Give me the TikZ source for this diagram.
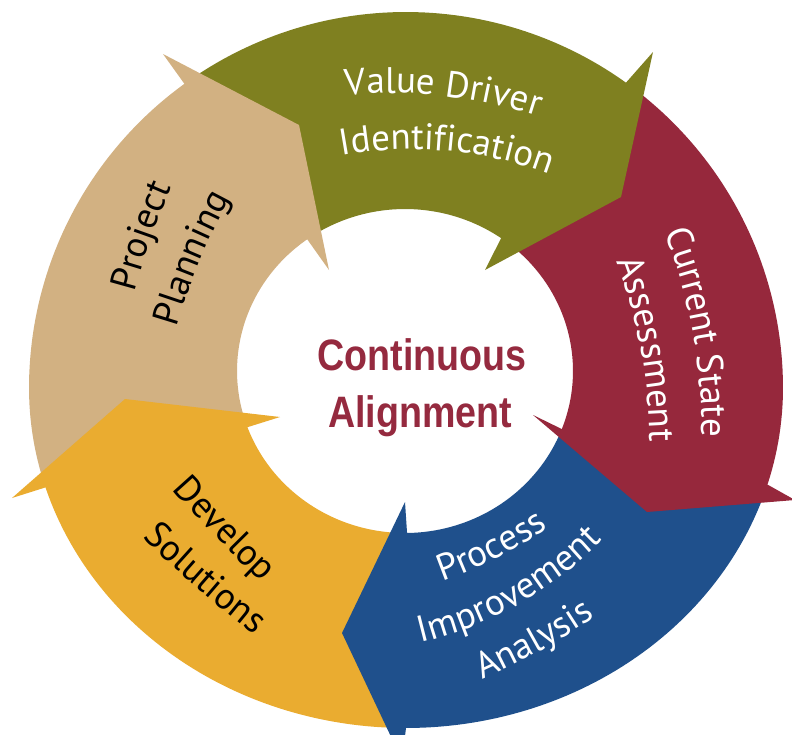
\documentclass[tikz,border=0pt]{standalone}
\usepackage{fontspec}
\newfontfamily\lblfont{PT Sans}
\newfontfamily\ctrfont{Liberation Sans}
\usetikzlibrary{calc,decorations.text}

\definecolor{cTan}{HTML}{D2B182}
\definecolor{cOlive}{HTML}{7F8020}
\definecolor{cRed}{HTML}{96283C}
\definecolor{cBlue}{HTML}{1F508C}
\definecolor{cGold}{HTML}{EAAC30}
\definecolor{cCtr}{HTML}{952A3F}

% one line of a label, set along a circular arc
% #1 middle of baseline, #2 reading direction, #3 arc radius,
% #4 1 = bulges towards letter tops, -1 = bulges away, #5 colour, #6 text
\newcommand\arcline[6]{%
  \pgfmathsetmacro\arcC{#2-90*(#4)}%
  \pgfmathsetmacro\arcS{#2+90*(#4)+(#4)*9740/#3}%
  \pgfmathsetmacro\arcE{#2+90*(#4)-(#4)*9740/#3}%
  \path[decorate,decoration={text along path,text align=center,text color=#5,
      text={|\lblfont\fontsize{37}{37}\selectfont|#6}}]
    ($(#1)+(\arcC:#3pt)+(\arcS:#3pt)$) arc[start angle=\arcS,end angle=\arcE,radius=#3pt];}

\tikzset{
  ctr/.style={font=\ctrfont\bfseries\fontsize{44}{44}\selectfont,text=cCtr,
    xscale=0.855,inner sep=0pt,anchor=base},
}

\begin{document}
\begin{tikzpicture}[x=1pt,y=1pt,
  declare function={
    ox(\t)=406+377*cos(\t);
    oy(\t)=-388+ifthenelse(sin(\t)>0,376,340)*sin(\t);
    ix(\t)=405+168*cos(\t);
    iy(\t)=-371+162*sin(\t);
  }]
\useasboundingbox (0,0) rectangle (792,-734);
\clip (0,0) rectangle (792,-734);
\fill[white] (0,0) rectangle (792,-734);

% arrowheads: outer wing, tip, inner wing
\coordinate (W1o) at (163,-54);  \coordinate (T1) at (299,-125); \coordinate (W1i) at (329,-270);
\coordinate (W2o) at (653,-52);  \coordinate (T2) at (621,-197); \coordinate (W2i) at (485,-270);
\coordinate (W3o) at (795,-500); \coordinate (T3) at (647,-512); \coordinate (W3i) at (533,-415);
\coordinate (W4o) at (402,-760); \coordinate (T4) at (342,-633); \coordinate (W4i) at (405,-502);
\coordinate (W5o) at (12,-498);  \coordinate (T5) at (125,-399); \coordinate (W5i) at (280,-417);

% back edges of the arrowheads, on the ring
\coordinate (E1o) at ({ox(126)},{oy(126)});     \coordinate (E1i) at ({ix(125.6)},{iy(125.6)});
\coordinate (E2o) at ({ox(54.3)},{oy(54.3)});   \coordinate (E2i) at ({ix(55.1)},{iy(55.1)});
\coordinate (E3o) at ({ox(-16.5)},{oy(-16.5)}); \coordinate (E3i) at ({ix(-21)},{iy(-21)});
\coordinate (E4o) at ({ox(-90)},{oy(-90)});     \coordinate (E4i) at ({ix(-89.3)},{iy(-89.3)});
\coordinate (E5o) at ({ox(197)},{oy(197)});     \coordinate (E5i) at ({ix(200.3)},{iy(200.3)});

% ring bodies (each tail runs under the previous arrowhead)
\fill[cOlive] plot[domain=125:53.3,samples=60] ({ox(\x)},{oy(\x)})
  -- plot[domain=54.1:124.6,samples=40] ({ix(\x)},{iy(\x)}) -- cycle;
\fill[cRed] plot[domain=53.3:-17.5,samples=60] ({ox(\x)},{oy(\x)})
  -- plot[domain=-22:54.1,samples=40] ({ix(\x)},{iy(\x)}) -- cycle;
\fill[cBlue] plot[domain=-17.5:-91,samples=60] ({ox(\x)},{oy(\x)})
  -- plot[domain=-90.3:-22,samples=40] ({ix(\x)},{iy(\x)}) -- cycle;
\fill[cGold] plot[domain=-91:-164,samples=60] ({ox(\x)},{oy(\x)})
  -- plot[domain=-160.7:-90.3,samples=40] ({ix(\x)},{iy(\x)}) -- cycle;
\fill[cTan] plot[domain=196:125,samples=60] ({ox(\x)},{oy(\x)})
  -- plot[domain=124.6:199.3,samples=40] ({ix(\x)},{iy(\x)}) -- cycle;

% arrowheads
\fill[cTan]   (E1o) -- (W1o) -- (T1) -- (W1i) -- (E1i) -- cycle;
\fill[cOlive] (E2o) -- (W2o) -- (T2) -- (W2i) -- (E2i) -- cycle;
\fill[cRed]   (E3o) -- (W3o) -- (T3) -- (W3i) -- (E3i) -- cycle;
\fill[cBlue]  (E4o) -- (W4o) -- (T4) -- (W4i) -- (E4i) -- cycle;
\fill[cGold]  (E5o) -- (W5o) -- (T5) -- (W5i) -- (E5i) -- cycle;

% step labels
\arcline{443,-96}{-6.4}{470}{1}{white}{Value Driver}
\arcline{447,-151}{-5.1}{390}{1}{white}{Identification}
\arcline{693,-333}{-79.8}{550}{1}{white}{Current State}
\arcline{641,-350}{-79.4}{520}{1}{white}{Assessment}
\arcline{151,-239}{70.7}{700}{1}{black}{Project}
\arcline{200,-261}{67.6}{650}{1}{black}{Planning}
\arcline{216,-537}{-46}{1500}{-1}{black}{Develop}
\arcline{197,-588}{-41}{1500}{-1}{black}{Solutions}
\arcline{497,-558}{27}{450}{-1}{white}{Process}
\arcline{519,-604}{29.4}{380}{-1}{white}{Improvement}
\arcline{540,-651}{29.2}{700}{-1}{white}{Analysis}

% centre
\node[ctr] (c1) at (422,-370) {Continuous};
\node[ctr] (c2) at (420,-427) {Alignment};
\end{tikzpicture}
\end{document}
